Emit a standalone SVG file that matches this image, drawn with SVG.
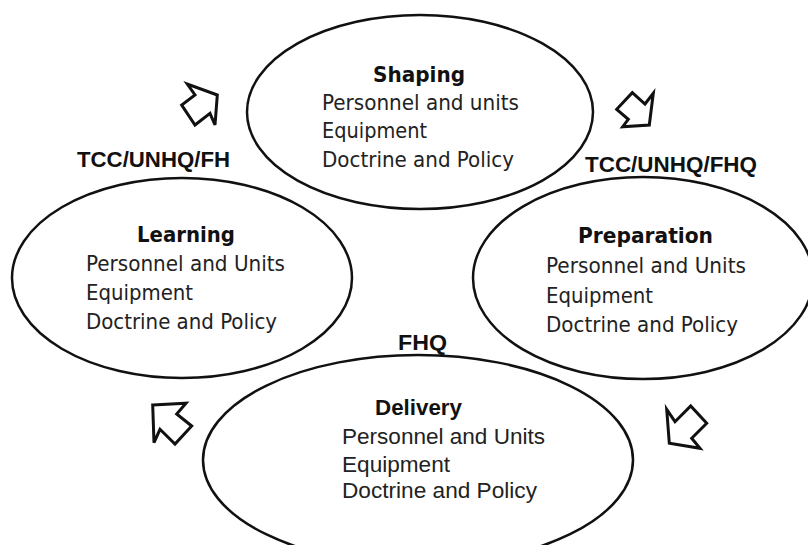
<svg xmlns="http://www.w3.org/2000/svg" width="808" height="545" viewBox="0 0 808 545">
<style>
.ell{fill:none;stroke:#111;stroke-width:2.5}
.arr{fill:none;stroke:#111;stroke-width:3;stroke-linejoin:miter}
.t{font-family:"DejaVu Sans Condensed","DejaVu Sans",sans-serif;font-size:22px;fill:#222}
.tb{font-family:"DejaVu Sans Condensed","DejaVu Sans",sans-serif;font-size:22px;font-weight:bold;fill:#111}
.a{font-family:"Liberation Sans",Arial,sans-serif;font-size:22px;fill:#222}
.ab{font-family:"Liberation Sans",Arial,sans-serif;font-size:22px;font-weight:bold;fill:#111}
</style>
<rect width="808" height="545" fill="#fff"/>
<g id="shaping">
<ellipse class="ell" cx="420" cy="112" rx="173" ry="97"/>
<text class="tb" x="373" y="82" textLength="92" lengthAdjust="spacingAndGlyphs">Shaping</text>
<text class="t" x="322" y="110" textLength="197" lengthAdjust="spacingAndGlyphs">Personnel and units</text>
<text class="t" x="322" y="138" textLength="105" lengthAdjust="spacingAndGlyphs">Equipment</text>
<text class="t" x="322" y="167" textLength="192" lengthAdjust="spacingAndGlyphs">Doctrine and Policy</text>
</g>
<g id="learning">
<ellipse class="ell" cx="182" cy="278" rx="170" ry="100"/>
<text class="tb" x="137" y="242" textLength="98" lengthAdjust="spacingAndGlyphs">Learning</text>
<text class="t" x="86" y="271" textLength="199" lengthAdjust="spacingAndGlyphs">Personnel and Units</text>
<text class="t" x="86" y="300" textLength="107" lengthAdjust="spacingAndGlyphs">Equipment</text>
<text class="t" x="86" y="329" textLength="191" lengthAdjust="spacingAndGlyphs">Doctrine and Policy</text>
</g>
<g id="preparation">
<ellipse class="ell" cx="643" cy="278" rx="170" ry="101"/>
<text class="tb" x="578" y="243" textLength="135" lengthAdjust="spacingAndGlyphs">Preparation</text>
<text class="t" x="546" y="273" textLength="200" lengthAdjust="spacingAndGlyphs">Personnel and Units</text>
<text class="t" x="546" y="303" textLength="107" lengthAdjust="spacingAndGlyphs">Equipment</text>
<text class="t" x="546" y="332" textLength="192" lengthAdjust="spacingAndGlyphs">Doctrine and Policy</text>
</g>
<g id="delivery">
<ellipse class="ell" cx="418" cy="460" rx="215" ry="105"/>
<text class="ab" x="375" y="415" textLength="87" lengthAdjust="spacingAndGlyphs">Delivery</text>
<text class="a" x="342" y="444" textLength="203" lengthAdjust="spacingAndGlyphs">Personnel and Units</text>
<text class="a" x="342" y="472" textLength="108" lengthAdjust="spacingAndGlyphs">Equipment</text>
<text class="a" x="342" y="498" textLength="195" lengthAdjust="spacingAndGlyphs">Doctrine and Policy</text>
</g>
<g id="labels">
<text class="ab" x="77" y="167" textLength="153" lengthAdjust="spacingAndGlyphs">TCC/UNHQ/FH</text>
<text class="ab" x="585" y="172" textLength="172" lengthAdjust="spacingAndGlyphs">TCC/UNHQ/FHQ</text>
<text class="ab" x="398" y="350" textLength="49" lengthAdjust="spacingAndGlyphs">FHQ</text>
</g>
<g id="connectors">
<polygon class="arr" points="217.3,95 187.3,84 195,95 181.7,105 195,125 210,113.3 215,125"/>
<polygon class="arr" points="632.3,92.7 645,104 653.3,93.3 649.3,125 622.7,126.7 628.3,119.3 616.7,109.3"/>
<polygon class="arr" points="152.7,405 186,403.3 176.7,414 191.7,426 175,444 160,429.3 154,442.7"/>
<polygon class="arr" points="666.7,409.3 675,421.7 690.7,406 706.7,423.3 691.7,438.3 700,448.3 669.3,443.3"/>
</g>
</svg>
